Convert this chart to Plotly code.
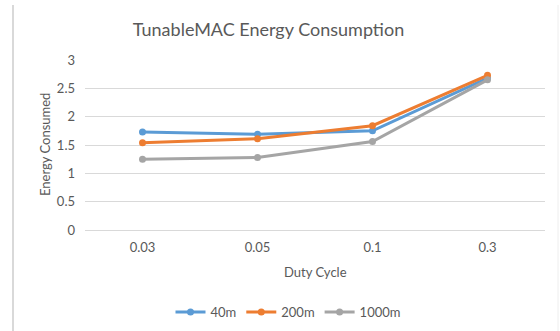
import plotly.graph_objects as go

categories = ["0.03", "0.05", "0.1", "0.3"]
s40 = [1.73, 1.69, 1.75, 2.68]
s200 = [1.54, 1.61, 1.84, 2.73]
s1000 = [1.25, 1.28, 1.56, 2.65]
series_names = ["40m", "200m", "1000m"]
colors = ["#5B9BD5", "#ED7D31", "#A5A5A5"]
yticks = [0, 0.5, 1, 1.5, 2, 2.5, 3]
yticklabels = ["0", "0.5", "1", "1.5", "2", "2.5", "3"]

FONT = "Lato"
GRAY = "#595959"
FS = 13

fig = go.Figure()
for name, vals, c in zip(series_names, [s40, s200, s1000], colors):
    fig.add_trace(go.Scatter(
        x=categories, y=vals, name=name, mode="lines+markers",
        line=dict(color=c, width=3),
        marker=dict(color=c, size=7, symbol="circle"),
    ))

W, H = 560, 331
L, R, T, B = 85, 15, 60, 101
pw = W - L - R
ph = H - T - B

def px_x(x):
    return (x - L) / pw

def px_y(y):
    return (H - B - y) / ph

fig.update_layout(
    width=W, height=H, autosize=False,
    margin=dict(l=L, r=R, t=T, b=B, pad=0, autoexpand=False),
    paper_bgcolor="white", plot_bgcolor="white",
    font=dict(family=FONT, color=GRAY, size=FS),
    title=dict(text="TunableMAC Energy Consumption", x=268.5 / W, xanchor="center",
               y=1 - 30 / H, yanchor="middle", yref="container",
               font=dict(family=FONT, size=18, color=GRAY)),
    xaxis=dict(type="category", range=[-0.5, 3.5], showgrid=False,
               showline=True, linecolor="#D9D9D9", linewidth=1,
               ticks="", tickfont=dict(size=FS, color=GRAY), zeroline=False,
               automargin=False, ticklabelstandoff=5),
    yaxis=dict(range=[0, 3], tickvals=yticks, ticktext=yticklabels,
               showgrid=True, gridcolor="#D9D9D9", gridwidth=1,
               zeroline=False, showline=False, ticks="",
               tickfont=dict(size=FS, color=GRAY), automargin=False,
               ticklabelstandoff=9),
    showlegend=True,
    legend=dict(orientation="h", x=288 / W, xanchor="center", xref="container",
                y=1 - 312 / H, yanchor="middle", yref="container",
                font=dict(size=FS, color=GRAY), itemwidth=30,
                bgcolor="rgba(0,0,0,0)"),
    annotations=[
        dict(text="Energy Consumed", xref="paper", yref="paper",
             x=px_x(45), y=0.5, xanchor="center", yanchor="middle",
             textangle=-90, showarrow=False, font=dict(size=FS, color=GRAY)),
        dict(text="Duty Cycle", xref="paper", yref="paper",
             x=px_x(315), y=px_y(272), xanchor="center", yanchor="middle",
             showarrow=False, font=dict(size=FS, color=GRAY)),
    ],
    shapes=[
        dict(type="line", xref="paper", yref="paper",
             x0=px_x(13), x1=px_x(13), y0=px_y(5), y1=px_y(331),
             line=dict(color="#D9D9D9", width=2)),
        dict(type="line", xref="paper", yref="paper",
             x0=px_x(558), x1=px_x(558), y0=px_y(5), y1=px_y(331),
             line=dict(color="#EEEEEE", width=1)),
    ],
)

fig.write_html("out.html")
